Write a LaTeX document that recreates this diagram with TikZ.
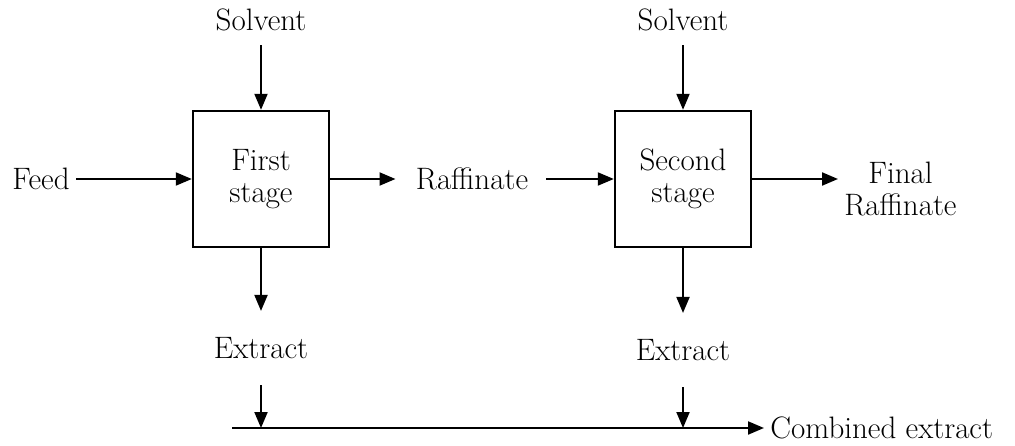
\documentclass[tikz,border=0pt]{standalone}
\usepackage{tikz}
\usetikzlibrary{arrows.meta}

\begin{document}
\begin{tikzpicture}[x=0.5pt,y=0.5pt,
    flow/.style={line width=1pt,-{Triangle[length=8pt,width=6.5pt]}},
    stage/.style={draw,line width=1.2pt,minimum width=68pt,minimum height=68pt,
        inner sep=0pt,align=center},
    label/.style={inner sep=3pt,align=center}]
    \useasboundingbox (0,0) rectangle (1015,445);
    \fontsize{15.5}{16}\selectfont
    % the two stages
    \node[stage] (stage1) at (261,266) {First\\stage};
    \node[stage] (stage2) at (683,266) {Second\\stage};
    % streams in and out
    \node[label] (solvent1) at (261,425) {Solvent};
    \node[label] (solvent2) at (683,425) {Solvent};
    \node[label,anchor=east] (feed) at (76,266) {Feed};
    \node[label] (raff) at (472,266) {Raffinate};
    \node[label,anchor=west] (final) at (838,256) {Final\\Raffinate};
    \node[label] (extract1) at (261,97) {Extract};
    \node[label] (extract2) at (683,95) {Extract};
    \node[label,anchor=west] (combined) at (764,17) {Combined extract};
    \coordinate (join1) at (261,17);
    \coordinate (join2) at (683,17);
    \coordinate (start) at (232,17);
    % connectors
    \draw[flow,shorten <=4pt] (solvent1.south) -- (stage1.north);
    \draw[flow,shorten <=4pt] (solvent2.south) -- (stage2.north);
    \draw[flow] (feed.east) -- (stage1.west);
    \draw[flow,shorten >=7pt] (stage1.east) -- (raff.west);
    \draw[flow,shorten <=6pt] (raff.east) -- (stage2.west);
    \draw[flow] (stage2.east) -- (stage2.east -| final.west);
    \draw[flow,shorten >=10pt] (stage1.south) -- (extract1.north);
    \draw[flow,shorten >=10pt] (stage2.south) -- (extract2.north);
    \draw[flow,shorten <=10pt] (extract1.south) -- (join1);
    \draw[flow,shorten <=10pt] (extract2.south) -- (join2);
    \draw[flow] (start) -- (combined.west);
\end{tikzpicture}
\end{document}
